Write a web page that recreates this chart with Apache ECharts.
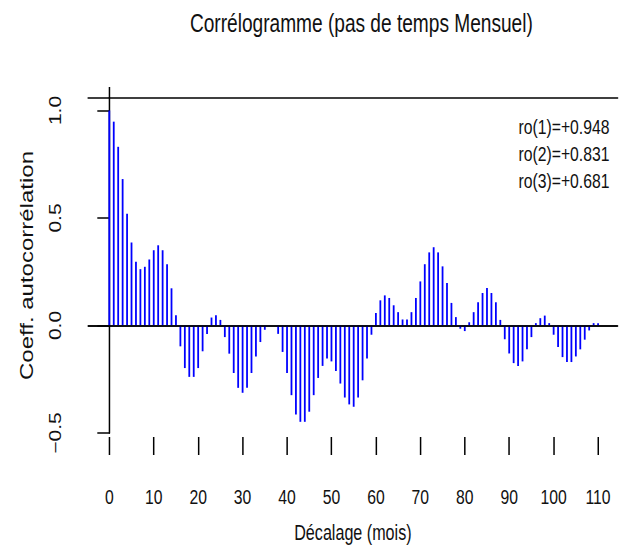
<!DOCTYPE html>
<html>
<head>
<meta charset="utf-8">
<script src="https://cdn.jsdelivr.net/npm/echarts@6/dist/echarts.min.js"></script>
<style>
html,body{margin:0;padding:0;background:#fff;overflow:hidden;}
#wrap{width:620px;height:548px;overflow:hidden;position:relative;}
/* the reference is a horizontally compressed R plot: draw at full width, then compress */
#chart{width:827px;height:548px;transform:scaleX(0.7497);transform-origin:0 0;}
</style>
</head>
<body>
<div id="wrap"><div id="chart"></div></div>
<script>
// Autocorrelation coefficients for lags 0..110 (monthly)
const acf = [
  1.000, 0.948, 0.831, 0.681, 0.520, 0.386, 0.296, 0.262, 0.273, 0.307,
  0.350, 0.373, 0.350, 0.285, 0.173, 0.048, -0.097, -0.198, -0.239, -0.239,
  -0.198, -0.120, -0.040, 0.037, 0.048, 0.026, -0.054, -0.131, -0.221, -0.290,
  -0.313, -0.290, -0.221, -0.144, -0.077, -0.020, -0.004, 0.000, -0.039, -0.123,
  -0.221, -0.324, -0.414, -0.448, -0.448, -0.401, -0.324, -0.244, -0.188, -0.154,
  -0.167, -0.212, -0.270, -0.335, -0.367, -0.378, -0.335, -0.255, -0.154, -0.043,
  0.058, 0.117, 0.140, 0.128, 0.094, 0.062, 0.028, 0.028, 0.062, 0.128,
  0.205, 0.285, 0.340, 0.364, 0.340, 0.275, 0.198, 0.105, 0.039, -0.015,
  -0.026, 0.015, 0.062, 0.108, 0.151, 0.174, 0.151, 0.108, 0.026, -0.064,
  -0.130, -0.175, -0.188, -0.167, -0.111, -0.054, 0.011, 0.034, 0.046, 0.011,
  -0.043, -0.100, -0.147, -0.170, -0.170, -0.144, -0.111, -0.066, -0.023, 0.011,
  0.011
];
const xTicks = [0, 10, 20, 30, 40, 50, 60, 70, 80, 90, 100, 110];
const yTicks = [-0.5, 0.0, 0.5, 1.0];
const titleText = 'Corrélogramme (pas de temps Mensuel)';
const xName = 'Décalage (mois)';
const yName = 'Coeff. autocorrélation';
const roLags = [1, 2, 3];

const SANS = "'Liberation Sans', Arial, Helvetica, sans-serif";
const INK = '#111';

const chart = echarts.init(document.getElementById('chart'), null, {renderer: 'svg', width: 827, height: 548});

const xMin = -4.79, xMax = 114.43;
const fmtY = v => (v < 0 ? '\u2212' : '') + Math.abs(v).toFixed(1);
const fmtRo = k => 'ro(' + k + ')=' + (acf[k] >= 0 ? '+' : '\u2212') + Math.abs(acf[k]).toFixed(3);

const option = {
  animation: false,
  backgroundColor: '#fff',
  title: {
    text: titleText,
    left: 477, top: 6, textAlign: 'center',
    textStyle: {fontFamily: SANS, fontSize: 25.5, fontWeight: 'normal', color: INK}
  },
  grid: {left: 117.4, right: 3, top: 98, bottom: 115, show: false, containLabel: false, outerBoundsMode: 'none'},
  xAxis: [
    { // box bottom line
      type: 'value', position: 'bottom', min: xMin, max: xMax,
      axisLine: {show: true, lineStyle: {color: '#000', width: 1.5}},
      axisTick: {show: false}, axisLabel: {show: false}, splitLine: {show: false}
    },
    { // offset tick axis with labels
      type: 'value', position: 'bottom', offset: 4, min: xMin, max: xMax,
      axisLine: {show: false},
      axisTick: {show: true, customValues: xTicks, length: 18, lineStyle: {color: '#000', width: 2}},
      axisLabel: {show: true, customValues: xTicks, margin: 49, fontFamily: SANS, fontSize: 21, color: INK},
      splitLine: {show: false},
      name: xName, nameLocation: 'middle', nameGap: 85,
      nameTextStyle: {fontFamily: SANS, fontSize: 21.5, color: INK}
    },
    { // box top line
      type: 'value', position: 'top', min: xMin, max: xMax,
      axisLine: {show: true, lineStyle: {color: '#000', width: 1.5}},
      axisTick: {show: true, customValues: [0], length: 11, lineStyle: {color: '#000', width: 2}},
      axisLabel: {show: false}, splitLine: {show: false}
    }
  ],
  yAxis: {
    type: 'value', min: -0.5, max: 1.058,
    axisLine: {show: true, lineStyle: {color: '#000', width: 2}},
    axisTick: {show: true, customValues: yTicks, length: 16, lineStyle: {color: '#000', width: 1.5}},
    axisLabel: {show: true, customValues: yTicks, rotate: 90, margin: 33, formatter: fmtY,
      fontFamily: SANS, fontSize: 21, color: INK},
    splitLine: {show: false},
    name: yName, nameLocation: 'middle', nameRotate: 90, nameGap: 70,
    nameTextStyle: {fontFamily: SANS, fontSize: 24, color: INK}
  },
  series: [
    {
      type: 'custom', xAxisIndex: 1,
      data: acf.map((v, i) => [i, v]),
      renderItem: function (params, api) {
        const p0 = api.coord([api.value(0), 0]);
        const p1 = api.coord([api.value(0), api.value(1)]);
        return {type: 'line', shape: {x1: p0[0], y1: p0[1], x2: p1[0], y2: p1[1]},
          style: {stroke: '#0000ff', lineWidth: 2.4}};
      },
      z: 2
    },
    {
      type: 'line', xAxisIndex: 1, data: [], silent: true,
      markLine: {silent: true, symbol: 'none', label: {show: false},
        lineStyle: {color: '#000', width: 1.5, type: 'solid'},
        data: [{yAxis: 0}]},
      z: 3
    }
  ],
  graphic: roLags.map((k, j) => ({
    type: 'text', right: 14, top: 116 + j * 27,
    style: {text: fmtRo(k), font: '21px ' + SANS, fill: INK}
  }))
};
chart.setOption(option);
</script>
</body>
</html>
